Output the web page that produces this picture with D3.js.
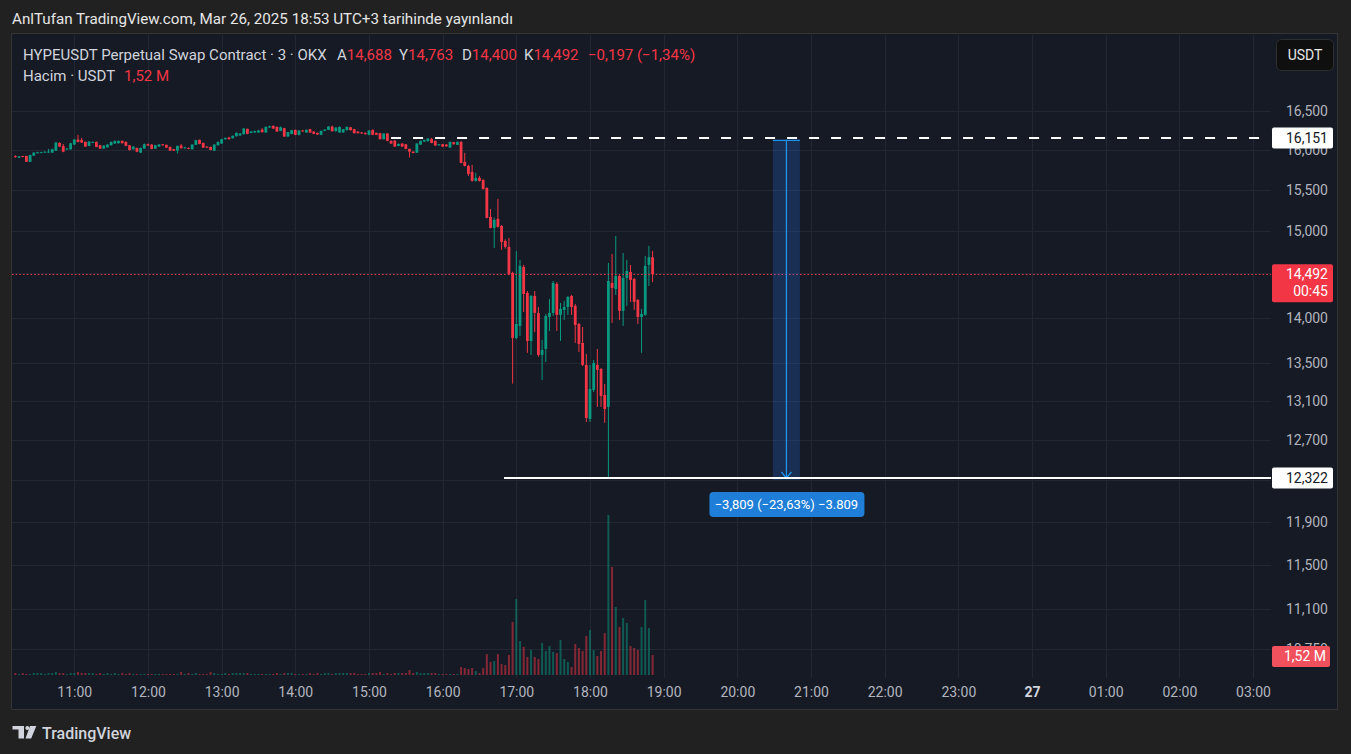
<!DOCTYPE html>
<html><head><meta charset="utf-8">
<script src="https://cdn.jsdelivr.net/npm/d3@7"></script>
<style>
html,body{margin:0;padding:0;background:#212121;overflow:hidden;}
svg{display:block;font-family:Roboto,"Noto Sans",sans-serif;}
</style></head><body>
<svg id="c" width="1351" height="754"></svg>
<script>
// ---- data (3-minute candles, HYPEUSDT, starting 10:12) ----
const startTime = Date.UTC(2025, 2, 26, 10, 12);
const opens = [15.921,15.899,15.921,15.921,15.848,15.925,15.960,15.968,15.966,15.968,
15.964,15.989,16.088,16.050,16.007,16.007,16.067,16.131,16.127,16.101,
16.050,16.095,16.101,16.058,16.015,16.032,16.058,16.080,16.084,16.114,
16.101,16.058,16.007,16.024,15.964,16.015,16.071,16.067,16.015,16.041,
16.071,16.063,16.037,16.007,15.989,16.054,16.020,16.024,16.007,16.063,
16.127,16.088,16.041,16.037,15.989,16.058,16.080,16.136,16.157,16.148,
16.174,16.183,16.200,16.269,16.217,16.222,16.222,16.260,16.222,16.286,
16.308,16.295,16.243,16.278,16.170,16.204,16.256,16.192,16.247,16.222,
16.265,16.234,16.217,16.192,16.243,16.256,16.299,16.239,16.222,16.222,
16.252,16.290,16.265,16.234,16.222,16.217,16.192,16.256,16.217,16.213,
16.136,16.209,16.114,16.118,16.050,16.080,16.071,16.011,15.976,15.964,
16.067,16.106,16.110,16.140,16.114,16.058,16.071,16.067,16.028,16.097,
16.063,16.101,15.847,15.796,15.721,15.609,15.646,15.621,15.522,15.168,
15.036,15.144,15.060,14.881,14.810,14.507,13.775,13.907,14.576,14.277,
13.742,14.243,14.052,13.590,13.655,14.007,14.052,14.380,14.030,14.086,
14.119,14.243,14.131,13.929,13.720,13.482,12.915,13.216,13.482,13.439,
13.164,13.039,14.391,14.323,14.472,14.075,14.449,14.518,14.437,14.198,
14.007,14.030,14.599,14.688];
const highs = [15.930,15.921,15.925,15.925,15.938,15.968,15.975,15.975,15.980,16.011,
16.015,16.100,16.095,16.075,16.024,16.090,16.140,16.192,16.153,16.106,
16.110,16.106,16.106,16.063,16.060,16.071,16.106,16.118,16.118,16.120,
16.106,16.063,16.045,16.028,16.028,16.080,16.080,16.071,16.063,16.071,
16.075,16.067,16.041,16.011,16.054,16.075,16.037,16.028,16.071,16.127,
16.131,16.093,16.045,16.041,16.071,16.106,16.140,16.157,16.166,16.183,
16.222,16.213,16.278,16.273,16.243,16.247,16.256,16.278,16.299,16.310,
16.312,16.299,16.299,16.282,16.230,16.256,16.260,16.252,16.256,16.260,
16.269,16.239,16.222,16.247,16.265,16.303,16.310,16.290,16.299,16.269,
16.299,16.295,16.269,16.239,16.226,16.222,16.252,16.260,16.222,16.217,
16.213,16.213,16.120,16.123,16.080,16.084,16.075,16.015,15.981,16.084,
16.118,16.131,16.148,16.150,16.118,16.075,16.075,16.071,16.106,16.101,
16.106,16.110,15.961,15.810,15.810,15.710,15.671,15.630,15.530,15.265,
15.160,15.387,15.070,14.900,14.916,14.520,14.763,14.658,14.599,14.300,
14.255,14.300,14.119,13.753,14.041,14.210,14.414,14.400,14.164,14.187,
14.243,14.255,14.153,13.940,13.896,13.601,13.482,13.536,13.655,13.450,
13.280,14.623,14.728,14.940,14.480,14.739,14.658,14.599,14.450,14.210,
14.097,14.704,14.822,14.763];
const lows = [15.900,15.895,15.905,15.845,15.845,15.920,15.955,15.962,15.962,15.964,
15.960,15.985,16.035,15.970,16.000,16.000,16.060,16.095,16.088,16.037,
16.045,16.090,16.032,16.011,16.010,16.028,16.054,16.075,16.080,16.080,
16.045,15.990,16.000,15.970,15.960,16.011,16.050,16.007,16.011,16.037,
16.054,16.024,15.985,15.985,15.951,16.015,16.015,16.007,16.003,16.058,
16.071,16.024,16.024,15.994,15.985,16.054,16.075,16.131,16.131,16.144,
16.170,16.179,16.196,16.200,16.213,16.217,16.217,16.222,16.217,16.282,
16.269,16.230,16.239,16.166,16.166,16.200,16.187,16.183,16.234,16.217,
16.217,16.200,16.192,16.187,16.239,16.252,16.234,16.234,16.217,16.217,
16.247,16.247,16.209,16.209,16.204,16.196,16.187,16.187,16.187,16.131,
16.131,16.110,16.075,16.037,16.045,16.037,16.007,15.903,15.955,15.959,
16.063,16.101,16.106,16.084,16.050,16.054,16.037,16.041,16.024,16.067,
16.060,15.830,15.790,15.670,15.600,15.600,15.600,15.500,15.150,15.030,
14.798,15.040,14.775,14.790,14.480,13.283,13.760,13.797,14.063,13.612,
13.590,13.841,13.570,13.322,13.514,13.852,14.020,13.852,13.742,13.974,
14.030,14.030,13.720,13.623,13.470,12.884,12.884,13.195,13.039,13.039,
12.874,12.322,13.941,14.255,13.974,13.907,14.131,14.176,14.086,13.929,
13.612,14.020,14.357,14.400];
const closes = [15.908,15.916,15.910,15.848,15.934,15.964,15.968,15.970,15.976,15.977,
16.007,16.093,16.041,15.976,16.015,16.084,16.131,16.101,16.093,16.041,
16.106,16.101,16.037,16.015,16.054,16.067,16.101,16.114,16.114,16.084,
16.050,15.998,16.041,15.976,16.024,16.071,16.054,16.011,16.058,16.067,
16.058,16.028,15.989,15.989,16.050,16.020,16.032,16.011,16.067,16.123,
16.075,16.028,16.028,15.998,16.067,16.101,16.136,16.153,16.136,16.179,
16.217,16.209,16.273,16.204,16.234,16.239,16.247,16.226,16.295,16.303,
16.273,16.234,16.290,16.170,16.226,16.252,16.192,16.247,16.239,16.256,
16.222,16.204,16.196,16.243,16.260,16.299,16.239,16.286,16.295,16.265,
16.295,16.252,16.213,16.213,16.209,16.200,16.247,16.192,16.192,16.136,
16.209,16.114,16.080,16.041,16.075,16.041,16.011,15.976,15.959,16.080,
16.114,16.127,16.144,16.088,16.054,16.071,16.041,16.045,16.101,16.071,
16.101,15.834,15.796,15.696,15.609,15.646,15.609,15.510,15.156,15.036,
15.132,15.048,14.869,14.810,14.495,13.775,13.929,14.588,14.266,13.742,
14.243,14.052,13.590,13.644,14.018,14.052,14.391,14.030,14.097,14.119,
14.232,14.119,13.918,13.710,13.482,12.925,13.227,13.504,13.429,13.153,
13.018,14.414,14.334,14.472,14.075,14.449,14.530,14.426,14.176,14.007,
14.041,14.588,14.689,14.492];
const volumes = [.15,.08,.15,.08,.08,.15,.15,.15,.08,.15,
.15,.23,.15,.15,.08,.15,.15,.23,.15,.15,
.15,.15,.08,.15,.08,.15,.08,.15,.08,.15,
.08,.15,.08,.08,.08,.08,.08,.08,.08,.08,
.08,.08,.08,.08,.08,.23,.08,.15,.08,.15,
.08,.08,.08,.23,.15,.08,.08,.15,.08,.15,
.15,.15,.15,.15,.08,.08,.08,.08,.08,.08,
.08,.15,.08,.15,.15,.15,.08,.08,.08,.08,
.15,.08,.15,.08,.15,.15,.08,.15,.15,.15,
.15,.15,.15,.08,.08,.08,.15,.15,.15,.23,
.08,.15,.08,.15,.15,.15,.15,.38,.15,.23,
.15,.15,.15,.15,.15,.08,.08,.08,.08,.08,
.08,.61,.53,.46,.53,.30,.15,.53,1.59,.99,
1.06,1.59,.84,.76,1.52,4.03,5.77,2.58,2.13,1.37,
1.90,1.37,1.22,2.43,1.82,2.20,1.75,1.67,2.66,1.22,
.99,.61,2.35,2.05,1.82,2.96,3.42,1.90,1.44,1.82,
3.19,12.15,8.20,5.16,3.65,4.33,3.95,2.20,2.05,1.90,
3.65,5.70,3.57,1.52];
const priceTicks = [16.5, 16.0, 15.5, 15.0, 14.5, 14.0, 13.5, 13.1, 12.7, 12.3, 11.9, 11.5, 11.1, 10.75];
const axisStart = Date.UTC(2025, 2, 26, 11), axisEnd = Date.UTC(2025, 2, 27, 3);
const rangeHigh = 16.151, rangeLow = 12.322;           // horizontal lines
const rangeHighFrom = Date.UTC(2025, 2, 26, 15, 18);   // dashed line start
const rangeLowFrom = Date.UTC(2025, 2, 26, 16, 50);    // solid line start
const measureFrom = Date.UTC(2025, 2, 26, 20, 29), measureTo = Date.UTC(2025, 2, 26, 20, 51);
const measureTop = 16.127;
const measureText = "\u22123,809 (\u221223,63%) \u22123.809";
const countdown = "00:45";
const volLabel = "1,52 M";

// ---- setup ----
const W = 1351, H = 754;
const plot = {l: 12, r: 1271, t: 35, b: 678};
const times = opens.map((_, i) => new Date(startTime + i * 180000));
const loc = d3.formatLocale({decimal: ",", thousands: ".", grouping: [3], currency: ["", ""], minus: "\u2212"});
const f3 = loc.format(".3f"), f2 = loc.format(".2f");
const UP = "#089981", DN = "#f23645";
const FONT = "Roboto, 'Noto Sans', sans-serif";

const svg = d3.select("#c");
svg.append("rect").attr("width", W).attr("height", H).attr("fill", "#212121");
svg.append("rect").attr("x", 11.5).attr("y", 33.5).attr("width", 1326).attr("height", 676)
  .attr("fill", "#161a25").attr("stroke", "#343434");

const x = d3.scaleUtc().domain([axisStart, axisEnd]).range([74.3, 1253]);
const y = d3.scaleLog().domain([rangeLow, rangeHigh]).range([478, 138]);
const yv = d3.scaleLinear().domain([0, d3.max(volumes)]).range([675, 515]);

// clip
svg.append("clipPath").attr("id", "pc").append("rect")
  .attr("x", plot.l).attr("y", plot.t).attr("width", plot.r - plot.l).attr("height", plot.b - plot.t);

// grid
const grid = svg.append("g").attr("clip-path", "url(#pc)");
const hours = x.ticks(d3.utcHour.every(1));
grid.selectAll("line.v").data(hours).join("line").attr("class", "v")
  .attr("x1", d => Math.round(x(d)) + 0.5).attr("x2", d => Math.round(x(d)) + 0.5)
  .attr("y1", plot.t).attr("y2", plot.b).attr("stroke", "#232733");
grid.selectAll("line.h").data(priceTicks).join("line").attr("class", "h")
  .attr("x1", plot.l).attr("x2", plot.r)
  .attr("y1", d => Math.round(y(d)) + 0.5).attr("y2", d => Math.round(y(d)) + 0.5).attr("stroke", "#232733");

// volume bars
const bars = svg.append("g").attr("clip-path", "url(#pc)");
bars.selectAll("rect").data(volumes).join("rect")
  .attr("x", (d, i) => x(times[i]) - 1)
  .attr("width", 2)
  .attr("y", d => yv(d))
  .attr("height", d => yv(0) - yv(d))
  .attr("fill", (d, i) => closes[i] >= opens[i] ? "rgba(8,153,129,0.5)" : "rgba(242,54,69,0.5)");

// candles
const cg = svg.append("g").attr("clip-path", "url(#pc)");
const cs = cg.selectAll("g").data(opens).join("g");
cs.append("line")
  .attr("x1", (d, i) => x(times[i])).attr("x2", (d, i) => x(times[i]))
  .attr("y1", (d, i) => y(highs[i])).attr("y2", (d, i) => y(lows[i]))
  .attr("stroke", (d, i) => closes[i] >= opens[i] ? UP : DN).attr("stroke-width", 1);
cs.append("rect")
  .attr("x", (d, i) => x(times[i]) - 1.4).attr("width", 2.8)
  .attr("y", (d, i) => Math.min(y(opens[i]), y(closes[i])))
  .attr("height", (d, i) => Math.max(1, Math.abs(y(opens[i]) - y(closes[i]))))
  .attr("fill", (d, i) => closes[i] >= opens[i] ? UP : DN);

// current price dotted line
const last = closes.length - 1;
svg.append("line").attr("x1", plot.l).attr("x2", plot.r)
  .attr("y1", Math.round(y(closes[last])) + 0.5).attr("y2", Math.round(y(closes[last])) + 0.5)
  .attr("stroke", DN).attr("stroke-width", 1).attr("stroke-dasharray", "1.5,2.2");

// measurement box
const mx0 = x(measureFrom), mx1 = x(measureTo), mxc = (mx0 + mx1) / 2;
svg.append("rect").attr("x", mx0).attr("y", y(measureTop)).attr("width", mx1 - mx0)
  .attr("height", y(rangeLow) + 2 - y(measureTop)).attr("fill", "rgba(41,121,255,0.22)");
svg.append("line").attr("x1", mx0).attr("x2", mx1).attr("y1", y(measureTop) + 0.5).attr("y2", y(measureTop) + 0.5)
  .attr("stroke", "#2196f3").attr("stroke-width", 1.2);
svg.append("line").attr("x1", mxc).attr("x2", mxc).attr("y1", y(measureTop)).attr("y2", y(rangeLow))
  .attr("stroke", "#2196f3").attr("stroke-width", 1.2);
svg.append("path").attr("d", `M${mxc - 5},${y(rangeLow) - 6}L${mxc},${y(rangeLow)}L${mxc + 5},${y(rangeLow) - 6}`)
  .attr("fill", "none").attr("stroke", "#2196f3").attr("stroke-width", 1.2);

// horizontal lines
svg.append("line").attr("x1", x(rangeHighFrom)).attr("x2", 1266)
  .attr("y1", y(rangeHigh)).attr("y2", y(rangeHigh))
  .attr("stroke", "#ffffff").attr("stroke-width", 2).attr("stroke-dasharray", "10,12");
svg.append("line").attr("x1", x(rangeLowFrom)).attr("x2", plot.r)
  .attr("y1", y(rangeLow)).attr("y2", y(rangeLow))
  .attr("stroke", "#ffffff").attr("stroke-width", 2);

// measurement label
svg.append("rect").attr("x", mxc - 77).attr("y", 492).attr("width", 155).attr("height", 25).attr("rx", 4)
  .attr("fill", "#1f7fd8");
svg.append("text").attr("x", mxc).attr("y", 509).attr("text-anchor", "middle")
  .attr("fill", "#ffffff").attr("font-size", 13).attr("font-family", FONT).text(measureText);

// y axis
const yAxis = d3.axisRight(y).tickValues(priceTicks).tickFormat(f3).tickSize(0).tickPadding(0);
const ga = svg.append("g").attr("transform", "translate(1328,0)").call(yAxis);
ga.select(".domain").remove();
ga.attr("font-size", 14).attr("font-family", FONT);
ga.selectAll("text").attr("text-anchor", "end").attr("fill", "#b2b5be");

// x axis
const xAxis = d3.axisBottom(x).ticks(d3.utcHour.every(1)).tickSize(0).tickPadding(0)
  .tickFormat(d => d.getUTCHours() === 0 ? d3.utcFormat("%-d")(d) : d3.utcFormat("%H:%M")(d));
const gx = svg.append("g").attr("transform", "translate(0,687)").call(xAxis);
gx.select(".domain").remove();
gx.attr("font-size", 14).attr("font-family", FONT);
gx.selectAll("text").attr("fill", "#b2b5be")
  .attr("font-weight", d => d.getUTCHours() === 0 ? "bold" : null)
  .filter(d => d.getUTCHours() === 0).attr("fill", "#d1d4dc");

// price labels on axis
function tag(yc, h, fill, lines, color) {
  svg.append("rect").attr("x", 1272).attr("y", yc - h / 2).attr("width", 61).attr("height", h).attr("rx", 2).attr("fill", fill);
  lines.forEach((t, k) => {
    svg.append("text").attr("x", 1328).attr("y", yc - h / 2 + 15 + k * 17).attr("text-anchor", "end")
      .attr("font-size", 14).attr("font-family", FONT).attr("fill", color).text(t);
  });
}
tag(y(rangeHigh), 21, "#ffffff", [f3(rangeHigh)], "#131722");
tag(y(rangeLow), 21, "#ffffff", [f3(rangeLow)], "#131722");
tag(y(closes[last]) + 9, 38, DN, [f3(closes[last]), countdown], "#ffffff");
svg.append("rect").attr("x", 1272).attr("y", 646).attr("width", 58).attr("height", 21).attr("rx", 2).attr("fill", "#f0515c");
svg.append("text").attr("x", 1326).attr("y", 661).attr("text-anchor", "end").attr("font-size", 14)
  .attr("font-family", FONT).attr("fill", "#ffffff").text(volLabel);

// USDT button
svg.append("rect").attr("x", 1276.5).attr("y", 39.5).attr("width", 57).attr("height", 31).attr("rx", 5)
  .attr("fill", "#0f0f0f").attr("stroke", "#2e2e2e");
svg.append("text").attr("x", 1305).attr("y", 60).attr("text-anchor", "middle").attr("font-size", 14)
  .attr("font-family", FONT).attr("fill", "#e8e8e8").text("USDT");

// title
svg.append("text").attr("x", 12).attr("y", 24).attr("font-size", 15.2).attr("font-family", FONT)
  .attr("fill", "#e6e6e6").text("AnlTufan TradingView.com, Mar 26, 2025 18:53 UTC+3 tarihinde yayınlandı");

// legend
const LG = "#d1d4dc";
svg.append("text").attr("x", 23).attr("y", 60).attr("font-size", 15).attr("font-family", FONT)
  .attr("fill", LG).text("HYPEUSDT Perpetual Swap Contract \u00b7 3 \u00b7 OKX");
const chg = closes[last] - closes[last - 1];
const legendItems = [["A", opens[last], 337], ["Y", highs[last], 399], ["D", lows[last], 462], ["K", closes[last], 524]];
legendItems.forEach(([k, v, px]) => {
  const t = svg.append("text").attr("x", px).attr("y", 60).attr("font-size", 15).attr("font-family", FONT).attr("fill", LG);
  t.append("tspan").text(k);
  t.append("tspan").attr("fill", DN).text(f3(v));
});
svg.append("text").attr("x", 588).attr("y", 60).attr("font-size", 15).attr("font-family", FONT).attr("fill", DN)
  .text(`${f3(chg)} (${f2(chg / closes[last - 1] * 100)}%)`);
svg.append("text").attr("x", 23).attr("y", 81).attr("font-size", 15).attr("font-family", FONT)
  .attr("fill", LG).text("Hacim \u00b7 USDT");
svg.append("text").attr("x", 124).attr("y", 81).attr("font-size", 15).attr("font-family", FONT)
  .attr("fill", DN).text(volLabel);

// footer logo
const lg = svg.append("g").attr("fill", "#d1d4dc");
lg.append("rect").attr("x", 12.5).attr("y", 726).attr("width", 11.5).attr("height", 3.5);
lg.append("rect").attr("x", 18.5).attr("y", 726).attr("width", 5.5).attr("height", 12.5);
lg.append("circle").attr("cx", 27.3).attr("cy", 728).attr("r", 2);
lg.append("path").attr("d", "M30,726L36.3,726L31.2,738.5L25.5,738.5Z");
svg.append("text").attr("x", 42).attr("y", 739).attr("font-size", 16).attr("font-family", FONT)
  .attr("font-weight", 500).attr("fill", "#d1d4dc").text("TradingView");
</script>
</body></html>
